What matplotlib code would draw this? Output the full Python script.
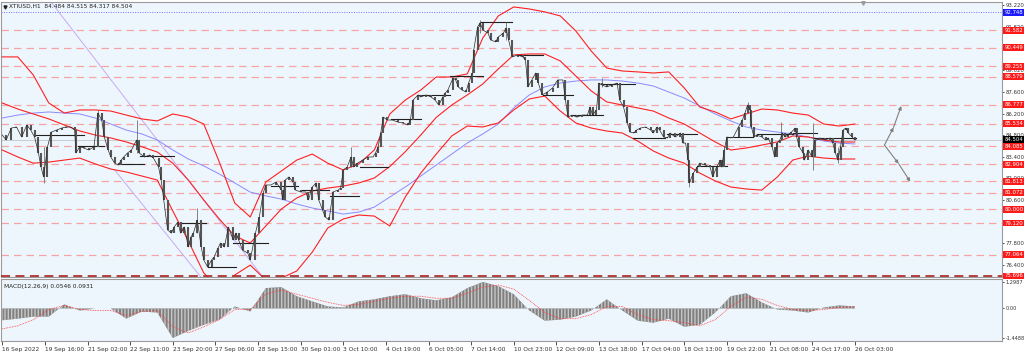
#!/usr/bin/env python3
"""XTIUSD H1 chart (Bollinger bands, MA, levels, MACD) in MT4 style."""

import matplotlib

matplotlib.use("Agg")
import matplotlib.pyplot as plt
import matplotlib.transforms as mtransforms

plt.rcParams["font.family"] = ["Liberation Sans Narrow", "DejaVu Sans"]

# close samples, bar index = H1 bars since 16 Sep 2022 00:00
bar_t = [0, 3, 7, 11, 15, 19, 22, 25, 28, 30, 32, 35, 38, 42, 46, 49, 53, 56, 57, 60,
         63, 67, 71, 74, 77, 79, 82, 84, 87, 90, 92, 94, 97, 100, 104, 106, 110, 114, 117, 121,
         123, 125, 128, 131, 133, 136, 138, 141, 144, 146, 148, 151, 154, 156, 159, 162, 164, 167, 169, 172,
         175, 179, 181, 183, 186, 190, 192, 196, 199, 202, 204, 208, 212, 216, 217, 219, 222, 225, 227, 231,
         235, 237, 240, 243, 245, 248, 250, 253, 256, 260, 262, 264, 267, 270, 272, 275, 279, 283, 287, 289,
         291, 293, 295, 298, 302, 306, 310, 314, 316, 318, 322, 324, 328, 332, 335, 338, 341, 343, 345, 349,
         351, 353, 356, 359, 361, 364, 365, 368, 370, 372, 376, 378, 382, 384, 388, 390, 392, 395, 399, 403,
         405, 407, 410, 413, 415, 418, 422, 426, 430, 434, 436, 438, 441, 445, 449, 453, 455, 457, 460, 462,
         464, 468, 472, 476, 478, 481, 484, 486, 489, 491, 494, 498, 502, 504, 507, 509, 512, 515, 517, 521,
         525, 527, 529, 531, 532, 535, 538, 540, 544, 548, 550, 553, 556, 557, 559, 561, 564, 566, 570, 573,
         575, 577, 579, 580, 582, 584, 588, 591, 593, 596, 598, 600, 602, 604, 606, 608, 611, 614, 615, 617,
         620, 621, 624, 627, 629, 631, 633, 637, 641, 643, 645, 647, 649, 651, 653, 655, 658, 660, 661]
close = [84.81, 84.49, 85.26, 85.33, 84.68, 85.46, 85.13, 84.68, 83.65, 82.74, 82.10, 84.05, 85.00, 85.13, 85.26, 85.33, 85.33, 85.13, 83.65, 84.05,
         83.97, 83.84, 84.05, 86.23, 85.78, 84.68, 83.84, 83.39, 82.99, 82.87, 83.19, 83.39, 83.65, 83.84, 84.49, 83.65, 83.39, 83.52, 83.32, 82.74,
         81.90, 80.61, 78.67, 78.47, 78.86, 79.18, 78.47, 78.86, 77.57, 78.21, 78.47, 79.31, 77.57, 76.73, 76.27, 76.73, 76.92, 77.50, 77.83, 77.57,
         78.86, 78.02, 78.47, 78.02, 77.37, 77.18, 76.73, 78.47, 79.51, 81.06, 81.58, 81.58, 81.77, 81.25, 80.61, 81.90, 82.10, 81.77, 81.25, 81.13,
         81.13, 80.61, 81.45, 81.71, 80.61, 79.96, 79.51, 79.31, 81.13, 81.25, 81.38, 82.55, 82.74, 83.39, 82.74, 82.99, 83.19, 83.39, 83.39, 83.65,
         84.05, 84.94, 85.97, 85.78, 85.78, 85.65, 85.59, 85.46, 85.78, 87.07, 87.40, 87.27, 87.40, 87.27, 87.07, 86.75, 87.27, 87.53, 87.72, 88.50,
         88.37, 87.92, 87.72, 87.59, 88.17, 88.82, 90.31, 91.80, 92.06, 91.60, 91.41, 90.96, 90.83, 91.15, 91.41, 91.73, 90.96, 89.86, 89.99, 89.86,
         89.66, 87.92, 88.37, 88.82, 88.17, 87.40, 87.59, 87.85, 88.37, 88.37, 87.07, 85.97, 86.10, 85.97, 86.10, 86.10, 86.62, 86.10, 86.43, 88.17,
         88.05, 87.92, 88.05, 88.17, 87.07, 86.62, 85.59, 85.00, 84.94, 85.13, 85.26, 85.33, 85.13, 84.94, 85.33, 85.13, 84.68, 84.62, 84.94, 84.68,
         84.94, 84.29, 84.29, 83.19, 81.71, 82.35, 82.74, 82.99, 82.87, 82.74, 82.10, 82.74, 83.19, 82.74, 83.84, 84.68, 84.62, 84.68, 85.33, 85.78,
         86.23, 86.75, 86.43, 85.33, 84.68, 84.81, 84.68, 84.49, 84.62, 84.05, 83.39, 84.29, 84.49, 84.94, 84.68, 84.81, 85.00, 85.26, 84.68, 84.05,
         83.65, 83.19, 83.84, 83.39, 84.49, 84.49, 84.62, 84.49, 84.62, 84.29, 83.65, 83.19, 84.05, 85.13, 85.26, 84.94, 84.68, 84.49, 84.504]

# a few long wicks
wick_t = [32, 74, 104, 151, 270, 370, 390, 464, 532, 577, 603, 628, 647]
wick_lo = [81.71, 85.78, 83.65, 78.47, 82.74, 91.41, 90.96, 87.92, 81.45, 86.23, 84.49, 82.55, 83.00]
wick_hi = [84.05, 86.43, 85.78, 80.09, 84.05, 92.25, 92.12, 88.50, 82.74, 86.95, 85.65, 85.59, 84.05]

# indicator samples every 12 bars
ind_t = list(range(0, 661, 12))
bb_upper = [89.86, 89.86, 88.69, 86.88, 86.23, 86.43, 86.43, 86.36, 86.10, 85.85,
            85.72, 86.17, 85.97, 85.52, 83.07, 80.41, 79.51, 81.77, 82.48, 83.19,
            83.58, 82.99, 82.55, 82.94, 83.84, 86.17, 87.07, 87.72, 88.56, 88.56,
            88.76, 91.08, 92.51, 93.09, 92.96, 92.77, 92.51, 91.54, 90.24, 89.14,
            88.95, 88.89, 88.82, 88.89, 87.85, 86.62, 86.30, 85.85, 86.17, 86.49,
            86.43, 86.23, 86.10, 85.52, 85.39, 85.52]
bb_mid = [86.88, 86.49, 86.17, 85.85, 85.46, 85.07, 84.81, 84.62, 84.36, 84.05,
          83.71, 82.99, 81.90, 80.61, 79.38, 78.28, 77.83, 78.93, 80.02, 80.74,
          81.19, 81.38, 81.51, 81.71, 82.03, 82.77, 83.73, 84.81, 85.95, 86.75,
          87.40, 88.11, 89.08, 89.99, 90.05, 90.05, 89.60, 88.63, 87.66, 86.95,
          86.75, 86.56, 86.36, 85.91, 85.52, 84.94, 84.36, 83.84, 83.97, 84.16,
          84.36, 84.75, 84.68, 84.49, 84.36, 84.36]
bb_lower = [83.84, 83.39, 82.99, 83.06, 83.19, 83.32, 82.94, 82.61, 82.42, 82.16,
            81.90, 79.90, 77.96, 75.89, 74.92, 75.76, 76.40, 75.43, 75.56, 76.02,
            77.24, 78.80, 79.38, 79.64, 79.57, 78.93, 80.80, 82.35, 83.58, 84.75,
            85.39, 85.33, 85.59, 86.43, 87.14, 87.33, 86.36, 85.59, 85.26, 85.07,
            84.94, 84.42, 83.78, 83.32, 82.99, 82.35, 81.84, 81.45, 81.32, 81.25,
            82.09, 83.19, 83.45, 83.32, 83.26, 83.26]
ma_slow = [85.91, 86.10, 86.23, 86.30, 86.23, 86.17, 85.91, 85.52, 85.13, 84.88,
           84.49, 83.84, 83.26, 82.81, 82.29, 81.71, 81.12, 80.87, 80.67, 80.35,
           80.09, 79.90, 79.70, 79.83, 80.15, 80.80, 81.45, 82.16, 82.87, 83.58,
           84.29, 84.88, 85.52, 86.56, 87.40, 87.92, 88.17, 88.30, 88.37, 88.37,
           88.30, 88.17, 87.98, 87.59, 87.20, 86.69, 86.17, 85.72, 85.33, 85.13,
           85.00, 84.88, 84.68, 84.42, 84.29, 84.23]
macd_hist = [-0.58, -0.50, -0.40, -0.40, 0.20, -0.10, 0.00, 0.00, -0.50, -0.15,
             -0.20, -1.45, -1.10, -0.80, -0.55, 0.10, -0.15, 1.00, 1.05, 0.60,
             0.35, 0.10, 0.05, 0.35, 0.45, 0.60, 0.70, 0.50, 0.40, 0.55,
             1.00, 1.30, 1.10, 0.70, -0.10, -0.60, -0.55, -0.40, -0.10, 0.45,
             -0.10, -0.60, -0.70, -0.50, -0.90, -0.80, -0.20, 0.60, 0.75, 0.30,
             -0.05, -0.10, -0.20, 0.05, 0.15, 0.10]
macd_signal = [-1.00, -0.85, -0.55, -0.05, 0.15, -0.05, -0.10, -0.10, -0.35, -0.15,
               -0.10, -0.90, -1.20, -0.90, -0.55, -0.05, -0.05, 0.70, 0.90, 0.70,
               0.50, 0.30, 0.15, 0.20, 0.35, 0.50, 0.60, 0.60, 0.50, 0.50,
               0.75, 1.05, 1.15, 0.95, 0.40, -0.20, -0.50, -0.50, -0.30, 0.10,
               0.10, -0.30, -0.55, -0.60, -0.70, -0.85, -0.55, 0.10, 0.55, 0.45,
               0.15, -0.05, -0.10, -0.05, 0.05, 0.09]

# daily open lines (start bar, end bar, price)
day_lines = [(25, 63, 84.81), (59, 79, 84.10), (90, 110, 82.94), (107, 133, 83.45),
             (138, 158, 79.12), (159, 181, 76.27), (179, 206, 77.83), (208, 229, 81.51),
             (231, 253, 81.25), (254, 276, 80.87), (277, 299, 82.74), (301, 324, 85.85),
             (321, 347, 87.40), (347, 372, 88.63), (370, 395, 92.12), (399, 419, 89.99),
             (419, 442, 87.40), (442, 465, 86.10), (465, 490, 88.11), (488, 513, 84.62),
             (515, 538, 84.88), (538, 561, 82.81), (561, 581, 84.68), (584, 612, 84.88),
             (612, 631, 84.94), (628, 661, 84.62)]

# horizontal levels
red_levels = [91.582, 90.449, 89.255, 88.579, 86.777, 85.534, 84.085, 82.904,
              81.813, 81.072, 80.000, 79.120, 77.064]
bottom_level = 75.696
blue_level = 92.748
last_price = 84.504

# trend lines and projection arrows
trend_lines = [((36, 93.60), (202, 75.60)), ((87, 82.55), (154, 75.60))]
proj_up = [(683, 84.16), (690, 85.30), (696, 86.69)]
proj_down = [(683, 84.16), (694, 82.95), (703, 81.79)]

price_ticks = [93.22, 91.82, 90.42, 89.02, 87.60, 86.20, 84.80, 83.40, 82.00,
               80.60, 79.20, 77.80, 76.40]
hidden_ticks = [90.42, 79.20]  # covered by level labels in the terminal
macd_ticks = [1.2987, 0.0, -1.4488]
macd_tick_labels = ["1.2987", "0.00", "-1.4488"]
date_labels = ["16 Sep 2022", "19 Sep 16:00", "21 Sep 02:00", "22 Sep 11:00",
               "23 Sep 20:00", "27 Sep 06:00", "28 Sep 15:00", "30 Sep 01:00",
               "3 Oct 10:00", "4 Oct 19:00", "6 Oct 05:00", "7 Oct 14:00",
               "10 Oct 23:00", "12 Oct 09:00", "13 Oct 18:00", "17 Oct 04:00",
               "18 Oct 13:00", "19 Oct 22:00", "21 Oct 08:00", "24 Oct 17:00",
               "26 Oct 03:00"]
date_ticks = list(range(0, 661, 33))

BG = "#eef6fd"
FS = 4.2
FS_R = 3.9
FS_M = 3.6
XLIM = (-1, 774)


def label_box(ax, y, text, color, text_color="white"):
    trans = mtransforms.blended_transform_factory(ax.transAxes, ax.transData)
    ax.text(1.0022, y, text, transform=trans, ha="left", va="center", fontsize=FS_R,
            color=text_color, clip_on=False, zorder=10,
            bbox=dict(boxstyle="square,pad=0.18", fc=color, ec="none"))


def style_axes(ax):
    ax.set_facecolor(BG)
    for spine in ax.spines.values():
        spine.set_color("#9a9a9a")
        spine.set_linewidth(0.8)
    ax.set_xlim(*XLIM)


def main() -> None:
    fig = plt.figure(figsize=(10.24, 3.52), dpi=100, facecolor="white")
    ax = fig.add_axes([1 / 1024, 1 - 277 / 352, 1001 / 1024, 275 / 352])
    mx = fig.add_axes([1 / 1024, 1 - 341 / 352, 1001 / 1024, 62 / 352])
    style_axes(ax)
    style_axes(mx)

    # ---- price pane
    ax.set_ylim(75.63, 93.41)
    for lvl in red_levels:
        ax.axhline(lvl, color="#f4a4a4", lw=0.9, dashes=(6, 4), zorder=1)
        label_box(ax, lvl, f"{lvl:.3f}", "#ff1a1a")
    ax.axhline(bottom_level, color="#b03030", lw=1.3, dashes=(5, 3), zorder=6, clip_on=False)
    label_box(ax, bottom_level, f"{bottom_level:.3f}", "#ff1a1a")
    ax.axhline(blue_level, color="#7070ff", lw=0.7, dashes=(1, 1.5), zorder=1)
    label_box(ax, blue_level, f"{blue_level:.3f}", "#1a1aff")
    ax.axhline(last_price, color="#c8ccd0", lw=0.7, zorder=1)
    label_box(ax, last_price, f"{last_price:.3f}", "#000000")

    for (x0, y0), (x1, y1) in trend_lines:
        ax.plot([x0, x1], [y0, y1], color="#c9a9f0", lw=0.7, zorder=2)

    ax.plot(ind_t, ma_slow, color="#8a8aff", lw=0.7, zorder=3)
    ax.plot(ind_t, bb_upper, color="#ff2020", lw=0.8, zorder=3)
    ax.plot(ind_t, bb_mid, color="#ff2020", lw=0.8, zorder=3)
    ax.plot(ind_t, bb_lower, color="#ff2020", lw=0.8, zorder=3)

    for t0, t1, y in day_lines:
        ax.plot([t0, t1], [y, y], color="#202020", lw=0.8, zorder=4)

    lo = [min(a, b) for a, b in zip(close[:-1], close[1:])]
    hi = [max(a, b) for a, b in zip(close[:-1], close[1:])]
    ax.vlines(wick_t, wick_lo, wick_hi, color="#707070", lw=0.6, zorder=4)
    ax.vlines(bar_t[1:], lo, hi, color="#555555", lw=1.5, zorder=5)
    ax.plot(bar_t, close, color="#2a2a2a", lw=0.5, zorder=5)

    for path in (proj_up, proj_down):
        for (xa, ya), (xb, yb) in zip(path[:-1], path[1:]):
            ax.annotate("", xy=(xb, yb), xytext=(xa, ya),
                        arrowprops=dict(arrowstyle="-|>", color="#808080", lw=0.8,
                                        mutation_scale=5, shrinkA=0, shrinkB=0))

    ax.yaxis.tick_right()
    ax.set_yticks(price_ticks)
    ax.set_yticklabels(["" if v in hidden_ticks else f"{v:.3f}" for v in price_ticks])
    ax.tick_params(axis="y", direction="out", length=1.5, width=0.6, pad=1,
                   labelsize=FS_R, colors="#333333")
    ax.tick_params(axis="x", bottom=False, labelbottom=False)

    ax.text(0.008, 0.983, "XTIUSD,H1  84.484 84.515 84.317 84.504",
            transform=ax.transAxes, fontsize=FS, va="center", ha="left", color="#222222")
    ax.plot([0.0035], [0.983], marker="v", ms=2.2, color="#222222",
            transform=ax.transAxes, clip_on=False)
    ax.plot([0.861], [0.995], marker="v", ms=2.5, color="#9a9a9a",
            transform=ax.transAxes, clip_on=False)

    # ---- MACD pane
    mx.set_ylim(-1.596, 1.446)
    mx.fill_between(ind_t, 0, macd_hist, facecolor="#808080", edgecolor="#c6c6c6",
                    hatch="|||||", linewidth=0, zorder=2)
    mx.plot(ind_t, macd_signal, color="#ff4040", lw=0.6, dashes=(1, 1), zorder=3)
    mx.text(0.003, 0.88, "MACD(12,26,9) 0.0546 0.0931", transform=mx.transAxes,
            fontsize=FS, va="center", ha="left", color="#222222")
    mx.yaxis.tick_right()
    mx.set_yticks(macd_ticks)
    mx.set_yticklabels(macd_tick_labels)
    mx.tick_params(axis="y", direction="out", length=1.5, width=0.6, pad=1,
                   labelsize=FS_M, colors="#333333")
    mx.set_xticks(date_ticks)
    mx.set_xticklabels(date_labels, ha="left")
    mx.tick_params(axis="x", direction="out", length=3, width=0.6, pad=1,
                   labelsize=FS, colors="#333333")

    fig.savefig("out.png", dpi=100, facecolor="white")


if __name__ == "__main__":
    main()
